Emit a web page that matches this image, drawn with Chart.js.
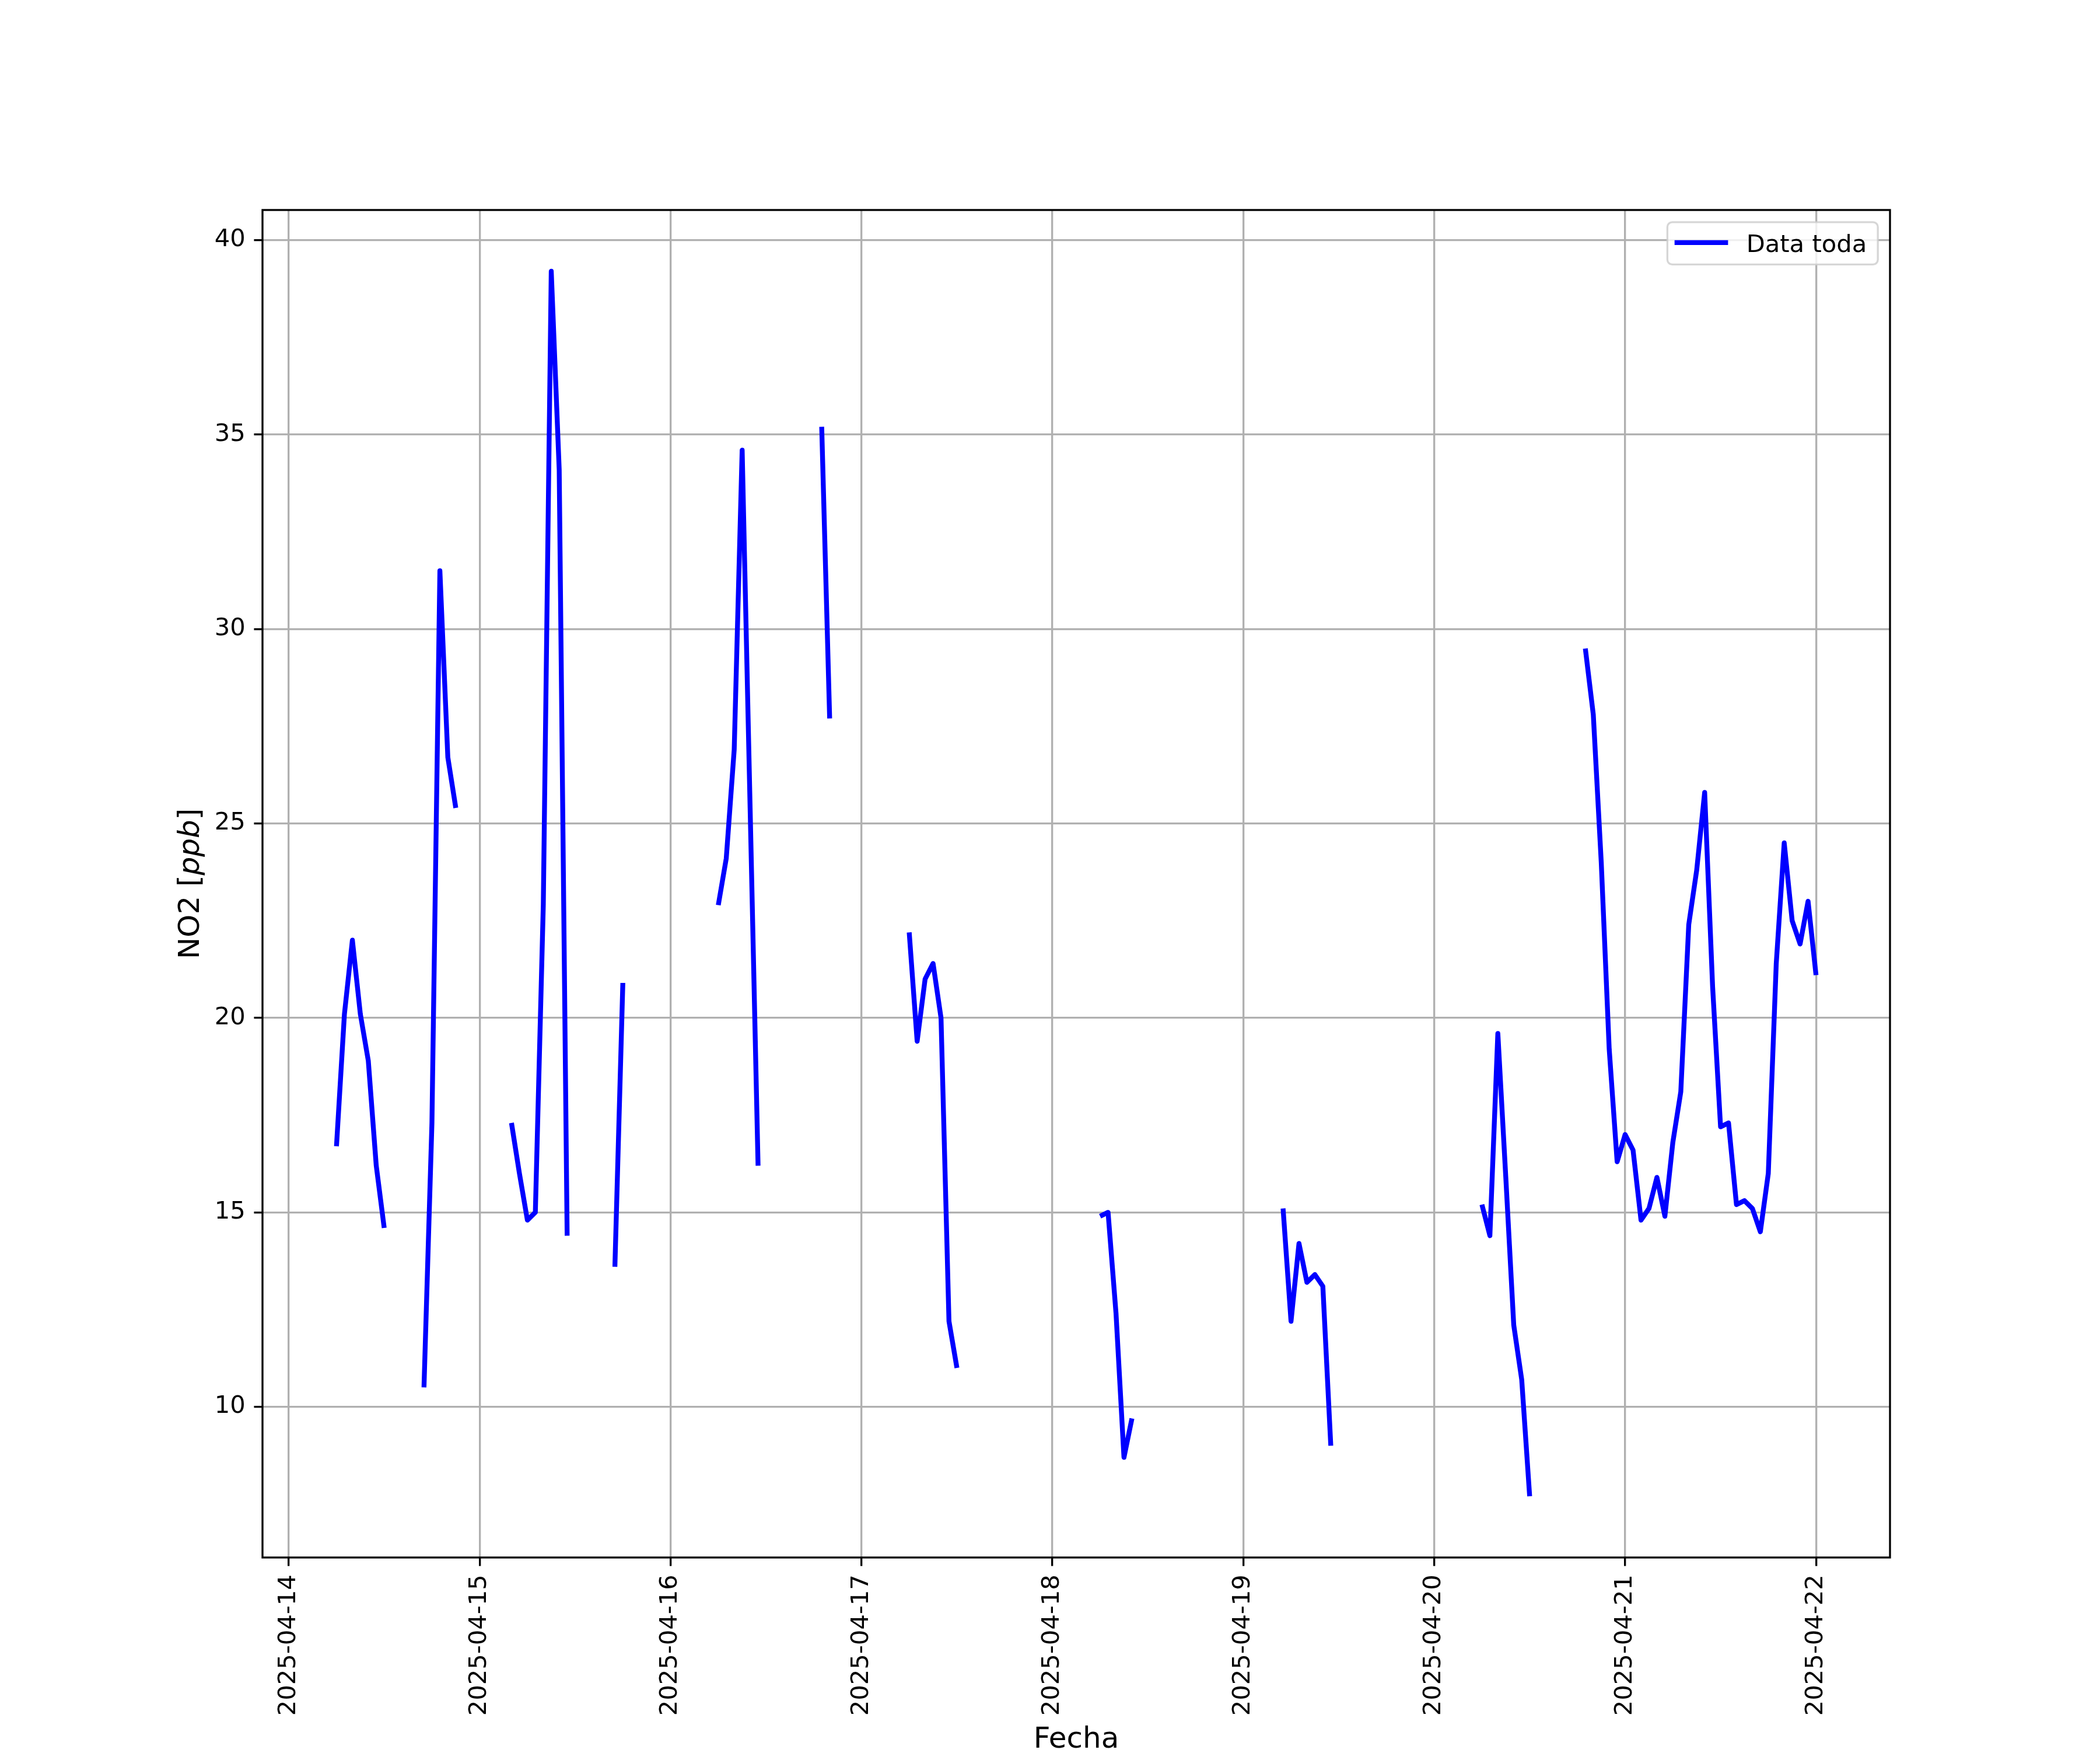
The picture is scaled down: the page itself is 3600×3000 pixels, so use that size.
<!DOCTYPE html>
<html>
<head>
<meta charset="utf-8">
<title>NO2 - Data toda</title>
<script src="https://cdn.jsdelivr.net/npm/chart.js@4.4.1/dist/chart.umd.min.js"></script>
<style>
  html, body { margin: 0; padding: 0; background: #fff; }
  #wrap { width: 3600px; height: 3000px; }
</style>
</head>
<body>
<div id="wrap"><canvas id="grafico" width="3600" height="3000"></canvas></div>
<script>
(function () {
  'use strict';

  // Hourly NO2 series, first sample 2025-04-14 06:00, null = no data.
  const INICIO = '2025-04-14T06:00:00Z';
  const NO2 = [
    // 14
    16.7, 20.1, 22.0, 20.1, 18.9, 16.2, 14.6, null, null, null, null,
    10.5, 17.3, 31.5, 26.7, 25.4, null, null,
    // 15
    null, null, null, null, 17.3, 16.0, 14.8, 15.0, 22.9, 39.2, 34.1, 14.4,
    null, null, null, null, null, 13.6, 20.9, null, null, null, null, null,
    // 16
    null, null, null, null, null, null, 22.9, 24.1, 26.9, 34.6, 25.4, 16.2,
    null, null, null, null, null, null, null, 35.2, 27.7, null, null, null,
    // 17
    null, null, null, null, null, null, 22.2, 19.4, 21.0, 21.4, 20.0, 12.2,
    11.0, null, null, null, null, null, null, null, null, null, null, null,
    // 18
    null, null, null, null, null, null, 14.9, 15.0, 12.4, 8.7, 9.7, null,
    null, null, null, null, null, null, null, null, null, null, null, null,
    // 19
    null, null, null, null, null, 15.1, 12.2, 14.2, 13.2, 13.4, 13.1, 9.0,
    null, null, null, null, null, null, null, null, null, null, null, null,
    // 20
    null, null, null, null, null, null, 15.2, 14.4, 19.6, 15.9, 12.1, 10.7,
    7.7, null, null, null, null, null, null, 29.5, 27.8, 24.0, 19.2, 16.3,
    // 21
    17.0, 16.6, 14.8, 15.1, 15.9, 14.9, 16.8, 18.1, 22.4, 23.8, 25.8, 20.8,
    17.2, 17.3, 15.2, 15.3, 15.1, 14.5, 16.0, 21.4, 24.5, 22.5, 21.9, 23.0,
    // 22
    21.1,
  ];

  const FECHAS_TICKS = [
    '2025-04-14', '2025-04-15', '2025-04-16', '2025-04-17', '2025-04-18',
    '2025-04-19', '2025-04-20', '2025-04-21', '2025-04-22',
  ];
  const Y_TICKS = [10, 15, 20, 25, 30, 35, 40];

  const SERIE = 'Data toda';
  const X_TITULO = 'Fecha';

  // dpi 300 -> 1pt = 300/72 px
  const PT = 300 / 72;
  const FAMILIA = '"DejaVu Sans", "Liberation Sans", sans-serif';
  const TICK_FONT = 10 * PT;
  const LABEL_FONT = 12 * PT;

  // x runs in hours counted from the first tick date
  const ORIGEN = Date.parse(FECHAS_TICKS[0] + 'T00:00:00Z');
  const h0 = (Date.parse(INICIO) - ORIGEN) / 3600e3;
  const puntos = NO2.map((v, i) => ({ x: h0 + i, y: v }));
  const tickHoras = FECHAS_TICKS.map((d) => (Date.parse(d + 'T00:00:00Z') - ORIGEN) / 3600e3);

  // matplotlib-like 5% autoscale margins
  const xs = puntos.map((p) => p.x);
  const ys = NO2.filter((v) => v !== null);
  const xLo = Math.min(...xs), xHi = Math.max(...xs);
  const yLo = Math.min(...ys), yHi = Math.max(...ys);
  const xMargen = 0.05 * (xHi - xLo);
  const yMargen = 0.05 * (yHi - yLo);

  function etiquetaFecha(h) {
    return new Date(ORIGEN + h * 3600e3).toISOString().slice(0, 10);
  }

  // full box round the axes, on top of the line like matplotlib spines
  const marco = {
    id: 'marco',
    afterDatasetsDraw(chart) {
      const a = chart.chartArea;
      const ctx = chart.ctx;
      ctx.save();
      ctx.strokeStyle = '#000';
      ctx.lineWidth = 0.8 * PT;
      ctx.lineJoin = 'miter';
      ctx.strokeRect(a.left, a.top, a.right - a.left, a.bottom - a.top);
      ctx.restore();
    },
  };

  // legend box inside the axes, upper right
  const leyenda = {
    id: 'leyenda',
    afterDatasetsDraw(chart) {
      const a = chart.chartArea;
      const ctx = chart.ctx;
      const ds = chart.data.datasets[0];
      ctx.save();
      ctx.font = TICK_FONT + 'px ' + FAMILIA;
      const tw = ctx.measureText(ds.label).width;
      const w = 12.3 + 91.7 + 31.3 + tw + 19;
      const h = 72.6;
      const x0 = a.right - 0.5 * TICK_FONT - w;
      const y0 = a.top + 0.5 * TICK_FONT;
      ctx.beginPath();
      ctx.roundRect(x0, y0, w, h, 0.2 * TICK_FONT);
      ctx.fillStyle = 'rgba(255,255,255,0.8)';
      ctx.fill();
      ctx.strokeStyle = 'rgba(204,204,204,0.8)';
      ctx.lineWidth = 0.8 * PT;
      ctx.stroke();
      ctx.beginPath();
      ctx.moveTo(x0 + 12.3, y0 + 35);
      ctx.lineTo(x0 + 12.3 + 91.7, y0 + 35);
      ctx.strokeStyle = ds.borderColor;
      ctx.lineWidth = ds.borderWidth;
      ctx.lineCap = 'butt';
      ctx.stroke();
      ctx.fillStyle = '#000';
      ctx.textBaseline = 'alphabetic';
      ctx.textAlign = 'left';
      ctx.fillText(ds.label, x0 + 135.3, y0 + 51);
      ctx.restore();
    },
  };

  // axis titles; the y one mixes upright and italic text
  const titulos = {
    id: 'titulos',
    afterDraw(chart) {
      const a = chart.chartArea;
      const ctx = chart.ctx;
      const cx = (a.left + a.right) / 2;
      const cy = (a.top + a.bottom) / 2;
      const normal = LABEL_FONT + 'px ' + FAMILIA;
      const italica = 'italic ' + LABEL_FONT + 'px ' + FAMILIA;
      ctx.save();
      ctx.fillStyle = '#000';
      ctx.font = normal;
      ctx.textAlign = 'center';
      ctx.textBaseline = 'alphabetic';
      ctx.fillText(X_TITULO, cx, 2996);

      const partes = [['NO2 [', normal], ['ppb', italica], [']', normal]];
      let total = 0;
      partes.forEach((p) => { ctx.font = p[1]; total += ctx.measureText(p[0]).width; });
      ctx.translate(341, cy);
      ctx.rotate(-Math.PI / 2);
      ctx.textAlign = 'left';
      let x = -total / 2;
      partes.forEach((p) => {
        ctx.font = p[1];
        ctx.fillText(p[0], x, 0);
        x += ctx.measureText(p[0]).width;
      });
      ctx.restore();
    },
  };

  const ejeComun = {
    grid: {
      color: '#b0b0b0',
      lineWidth: 0.8 * PT,
      tickLength: 3.5 * PT,
      tickColor: '#000',
      tickWidth: 0.8 * PT,
    },
    border: { display: false },
  };

  new Chart(document.getElementById('grafico').getContext('2d'), {
    type: 'line',
    data: {
      datasets: [
        {
          label: SERIE,
          data: puntos,
          borderColor: '#0000ff',
          borderWidth: 2 * PT,
          borderJoinStyle: 'round',
          borderCapStyle: 'butt',
          pointRadius: 0,
          tension: 0,
          spanGaps: false,
          fill: false,
        },
      ],
    },
    options: {
      responsive: false,
      devicePixelRatio: 1,
      animation: false,
      events: [],
      layout: { padding: { top: 360, right: 360, left: 0, bottom: 0 } },
      plugins: {
        legend: { display: false },
        tooltip: { enabled: false },
      },
      scales: {
        x: Object.assign({}, ejeComun, {
          type: 'linear',
          min: xLo - xMargen,
          max: xHi + xMargen,
          afterFit(s) { s.height = 330; },
          afterBuildTicks(s) { s.ticks = tickHoras.map((v) => ({ value: v })); },
          ticks: {
            autoSkip: false,
            minRotation: 90,
            maxRotation: 90,
            padding: 3.5 * PT,
            color: '#000',
            font: { family: FAMILIA, size: TICK_FONT },
            callback: (v) => etiquetaFecha(v),
          },
        }),
        y: Object.assign({}, ejeComun, {
          type: 'linear',
          min: yLo - yMargen,
          max: yHi + yMargen,
          afterFit(s) { s.width = 450; },
          afterBuildTicks(s) { s.ticks = Y_TICKS.map((v) => ({ value: v })); },
          ticks: {
            padding: 3.5 * PT,
            color: '#000',
            font: { family: FAMILIA, size: TICK_FONT },
            callback: (v) => String(v),
          },
        }),
      },
    },
    plugins: [marco, leyenda, titulos],
  });
})();
</script>
</body>
</html>
